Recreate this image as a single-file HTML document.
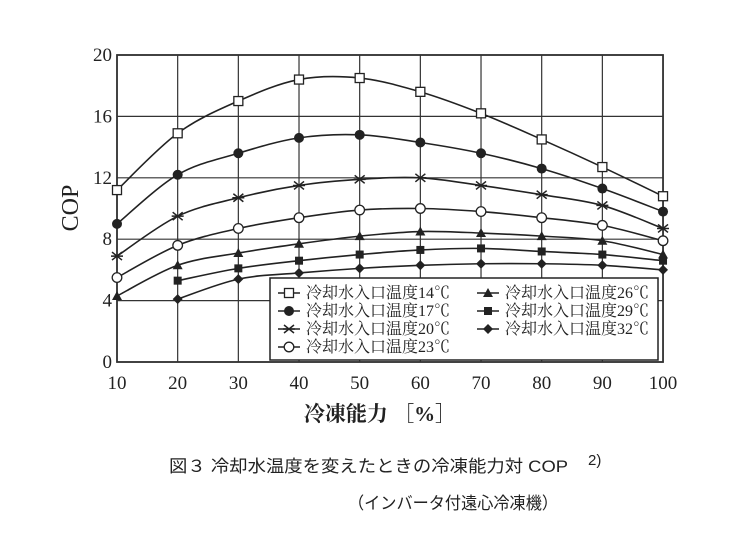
<!DOCTYPE html>
<html><head><meta charset="utf-8"><style>
body{margin:0;background:#fff;width:746px;height:543px;overflow:hidden}
svg text{font-family:"Liberation Serif","Noto Serif CJK SC",serif;fill:#222}
</style></head><body>
<svg id="s" width="746" height="543" xmlns="http://www.w3.org/2000/svg">
<g id="grid" stroke="#333" stroke-width="1.2" fill="none"></g>
<g id="curves"></g>
<rect x="270" y="278" width="388" height="82" fill="#fff" stroke="#222" stroke-width="1.5"/>
<g id="leg" font-size="16"></g>
<g id="ticks" font-size="19"></g>
<text x="78" y="208" font-size="24" transform="rotate(-90 78 208)" text-anchor="middle">COP</text>
<text x="380" y="421" font-size="21" text-anchor="middle" font-weight="bold">冷凍能力 ［%］</text>
<text x="169" y="472" font-size="17" textLength="399" lengthAdjust="spacingAndGlyphs" style="font-family:'Liberation Sans','Noto Sans CJK JP',sans-serif">図３ 冷却水温度を変えたときの冷凍能力対 COP</text>
<text x="588" y="465" font-size="15" style="font-family:'Liberation Sans','Noto Sans CJK JP',sans-serif">2)</text>
<text x="348" y="509" font-size="17" textLength="210" lengthAdjust="spacingAndGlyphs" style="font-family:'Liberation Sans','Noto Sans CJK JP',sans-serif">（インバータ付遠心冷凍機）</text>
</svg>
<script>
const X=v=>117+(v-10)*6.067, Y=v=>362-v*15.35;
const NS="http://www.w3.org/2000/svg";
function el(p,t,a){const e=document.createElementNS(NS,t);for(const k in a)e.setAttribute(k,a[k]);p.appendChild(e);return e}
const g=document.getElementById('grid');
for(let i=10;i<=100;i+=10)el(g,'line',{x1:X(i),x2:X(i),y1:Y(0),y2:Y(20)});
for(let j=0;j<=20;j+=4)el(g,'line',{x1:X(10),x2:X(100),y1:Y(j),y2:Y(j)});
el(g,'rect',{x:X(10),y:Y(20),width:X(100)-X(10),height:Y(0)-Y(20),'stroke-width':1.8});
const tk=document.getElementById('ticks');
for(let i=10;i<=100;i+=10){const t=el(tk,'text',{x:X(i),y:389,'text-anchor':'middle'});t.textContent=i}
for(let j=0;j<=20;j+=4){const t=el(tk,'text',{x:X(10)-5,y:Y(j)+6,'text-anchor':'end'});t.textContent=j}
const D=[
['sq',[11.2,14.9,17.0,18.4,18.5,17.6,16.2,14.5,12.7,10.8]],
['dot',[9.0,12.2,13.6,14.6,14.8,14.3,13.6,12.6,11.3,9.8]],
['x',[6.9,9.5,10.7,11.5,11.9,12.0,11.5,10.9,10.2,8.7]],
['oc',[5.5,7.6,8.7,9.4,9.9,10.0,9.8,9.4,8.9,7.9]],
['tri',[4.3,6.3,7.1,7.7,8.2,8.5,8.4,8.2,7.9,7.0]],
['fsq',[null,5.3,6.1,6.6,7.0,7.3,7.4,7.2,7.0,6.6]],
['dia',[null,4.1,5.4,5.8,6.1,6.3,6.4,6.4,6.3,6.0]]];
const cv=document.getElementById('curves');
function mark(p,type,x,y){
 if(type=='sq')el(p,'rect',{x:x-4.5,y:y-4.5,width:9,height:9,fill:'#fff',stroke:'#222','stroke-width':1.3});
 if(type=='dot')el(p,'circle',{cx:x,cy:y,r:5,fill:'#222'});
 if(type=='oc')el(p,'circle',{cx:x,cy:y,r:4.8,fill:'#fff',stroke:'#222','stroke-width':1.3});
 if(type=='x')el(p,'path',{d:`M${x-5} ${y-4}L${x+5} ${y+4}M${x-5} ${y+4}L${x+5} ${y-4}M${x-6} ${y}H${x+6}`,stroke:'#222','stroke-width':1.5});
 if(type=='tri')el(p,'path',{d:`M${x} ${y-5}L${x+5} ${y+4}H${x-5}Z`,fill:'#222'});
 if(type=='fsq')el(p,'rect',{x:x-4,y:y-4,width:8,height:8,fill:'#222'});
 if(type=='dia')el(p,'path',{d:`M${x} ${y-5}L${x+5} ${y}L${x} ${y+5}L${x-5} ${y}Z`,fill:'#222'});
}
D.forEach(([t,v])=>{
 const P=[];v.forEach((c,i)=>{if(c!=null)P.push([X(10+i*10),Y(c)])});
 let d=`M${P[0][0]} ${P[0][1]}`;
 for(let i=0;i<P.length-1;i++){const p0=P[i-1]||P[i],p1=P[i],p2=P[i+1],p3=P[i+2]||p2;
  d+=`C${p1[0]+(p2[0]-p0[0])/6} ${p1[1]+(p2[1]-p0[1])/6} ${p2[0]-(p3[0]-p1[0])/6} ${p2[1]-(p3[1]-p1[1])/6} ${p2[0]} ${p2[1]}`}
 el(cv,'path',{d,fill:'none',stroke:'#222','stroke-width':1.6});
 P.forEach(p=>mark(cv,t,p[0],p[1]));
});
const lg=document.getElementById('leg');
const L=[['sq','14',0,0],['dot','17',0,1],['x','20',0,2],['oc','23',0,3],['tri','26',1,0],['fsq','29',1,1],['dia','32',1,2]];
L.forEach(([t,n,c,r])=>{const x0=c?477:278,y=293+r*18;
 el(lg,'line',{x1:x0,x2:x0+22,y1:y,y2:y,stroke:'#222','stroke-width':1.6});mark(lg,t,x0+11,y);
 const tx=el(lg,'text',{x:x0+28,y:y+5});tx.textContent='冷却水入口温度'+n+'℃';});
</script>
</body></html>
